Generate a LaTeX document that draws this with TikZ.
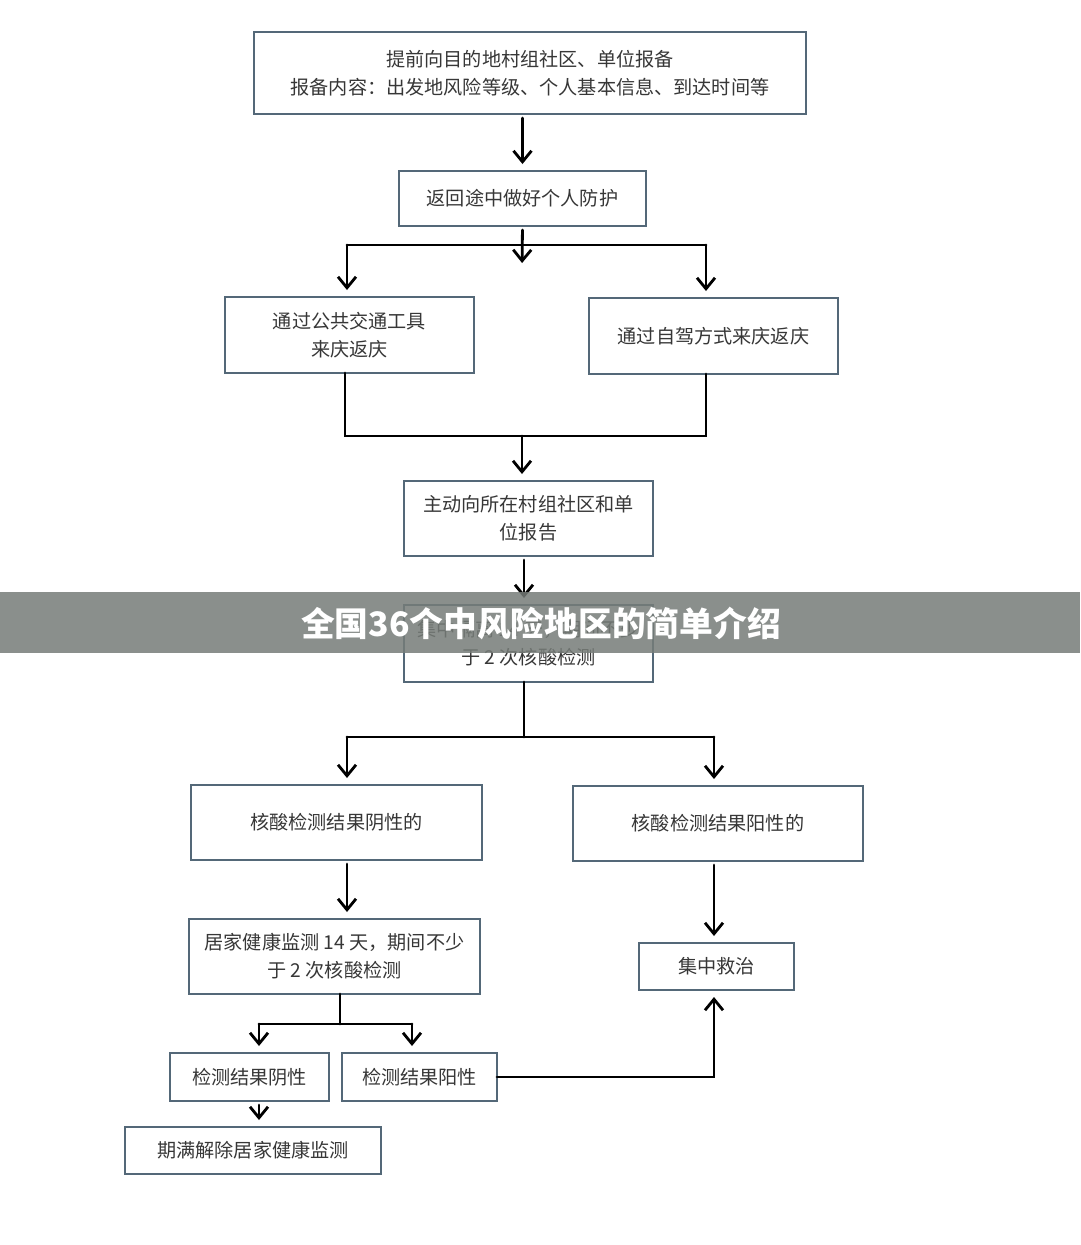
\documentclass[tikz,border=0pt]{standalone}
\usepackage{fontspec}
\usepackage{tikz}
\usetikzlibrary{arrows.meta}
\newfontfamily\cjk{Noto Sans CJK SC}
\definecolor{boxc}{RGB}{84,104,120}
\definecolor{txtc}{RGB}{55,55,55}
\definecolor{bandc}{RGB}{118,124,120}
\begin{document}
\begin{tikzpicture}[x=0.02cm, y=-0.02cm,
    box/.style={draw=boxc, line width=1.1pt, fill=white, inner sep=0pt, outer sep=0pt,
                align=center, text=txtc, font=\cjk\fontsize{10.9}{15.9}\selectfont},
    ln/.style={line width=1.6pt, line cap=round},
    arr/.style={ln, -{Straight Barb[length=2.2mm,width=3.6mm,line width=1.6pt]},
                shorten >=0.14cm, shorten <=0.08cm}]
  \useasboundingbox (0,0) rectangle (1080,1245);
  \fill[white] (0,0) rectangle (1080,1245);

  % boxes
  \node[box, minimum width=11.04cm, minimum height=1.64cm] (report) at (530,73)
       {提前向目的地村组社区、单位报备\\报备内容：出发地风险等级、个人基本信息、到达时间等};
  \node[box, minimum width=4.94cm, minimum height=1.1cm] (protect) at (522.5,198.5) {返回途中做好个人防护};
  \node[box, minimum width=4.98cm, minimum height=1.52cm] (public) at (349.5,335) {通过公共交通工具\\来庆返庆};
  \node[box, minimum width=4.98cm, minimum height=1.52cm] (selfdrive) at (713.5,336) {通过自驾方式来庆返庆};
  \node[box, minimum width=4.98cm, minimum height=1.5cm] (notify) at (528.5,518.5) {主动向所在村组社区和单\\位报告};
  \node[box, minimum width=4.98cm, minimum height=1.54cm] (isolate) at (528.5,643.5) {集中隔离 14 天，期间不少\\于 2 次核酸检测};
  \node[box, minimum width=5.82cm, minimum height=1.5cm] (neg) at (336.5,822.5) {核酸检测结果阴性的};
  \node[box, minimum width=5.8cm, minimum height=1.5cm] (pos) at (718,823.5) {核酸检测结果阳性的};
  \node[box, minimum width=5.82cm, minimum height=1.5cm] (home) at (334.5,956.5) {居家健康监测 14 天，期间不少\\于 2 次核酸检测};
  \node[box, minimum width=3.1cm, minimum height=0.94cm] (treat) at (716.5,966.5) {集中救治};
  \node[box, minimum width=3.18cm, minimum height=0.96cm] (homeneg) at (249.5,1077) {检测结果阴性};
  \node[box, minimum width=3.1cm, minimum height=0.96cm] (homepos) at (419.5,1077) {检测结果阳性};
  \node[box, minimum width=5.12cm, minimum height=0.94cm] (release) at (253,1150.5) {期满解除居家健康监测};

  % junctions
  \coordinate (mid) at (522,270);
  \coordinate (sl) at (347,245);
  \coordinate (sr) at (706,245);
  \coordinate (jn) at (522,436);
  \coordinate (tl) at (347,737);
  \coordinate (tr) at (714,737);
  \coordinate (hl) at (259,1024);
  \coordinate (hr) at (412,1024);

  \draw[arr] (protect |- report.south) -- (protect);
  \draw[arr] (protect.south) -- (mid);
  \draw[ln] (sl) -- (sr);
  \draw[arr, shorten <=0pt] (sl) -- (sl |- public.north);
  \draw[arr, shorten <=0pt] (sr) -- (sr |- selfdrive.north);
  \draw[ln] (public.south -| 345,0) -- (345,436) -- (706,436) -- (selfdrive.south -| 706,0);
  \draw[arr, shorten <=0pt] (jn) -- (jn |- notify.north);
  \draw[arr] (notify.south -| 524,0) -- (isolate.north -| 524,0);
  \draw[ln] (isolate.south -| 524,0) -- (524,737);
  \draw[ln] (tl) -- (tr);
  \draw[arr, shorten <=0pt] (tl) -- (tl |- neg.north);
  \draw[arr, shorten <=0pt] (tr) -- (tr |- pos.north);
  \draw[arr] (neg.south -| tl) -- (home.north -| tl);
  \draw[arr] (pos.south -| tr) -- (treat.north -| tr);
  \draw[ln] (home.south -| 340,0) -- (340,1024);
  \draw[ln] (hl) -- (hr);
  \draw[arr, shorten <=0pt] (hl) -- (hl |- homeneg.north);
  \draw[arr, shorten <=0pt] (hr) -- (hr |- homepos.north);
  \draw[arr] (homeneg.south -| hl) -- (release.north -| hl);
  \draw[arr, shorten <=0pt] (homepos.east) -| (treat.south -| tr);

  % banner
  \fill[bandc, opacity=0.85] (0,592) rectangle (1080,653);
  \node[text=white, font=\cjk\bfseries\fontsize{19.2}{22}\selectfont] (title) at (541,623) {全国36个中风险地区的简单介绍};
\end{tikzpicture}
\end{document}
